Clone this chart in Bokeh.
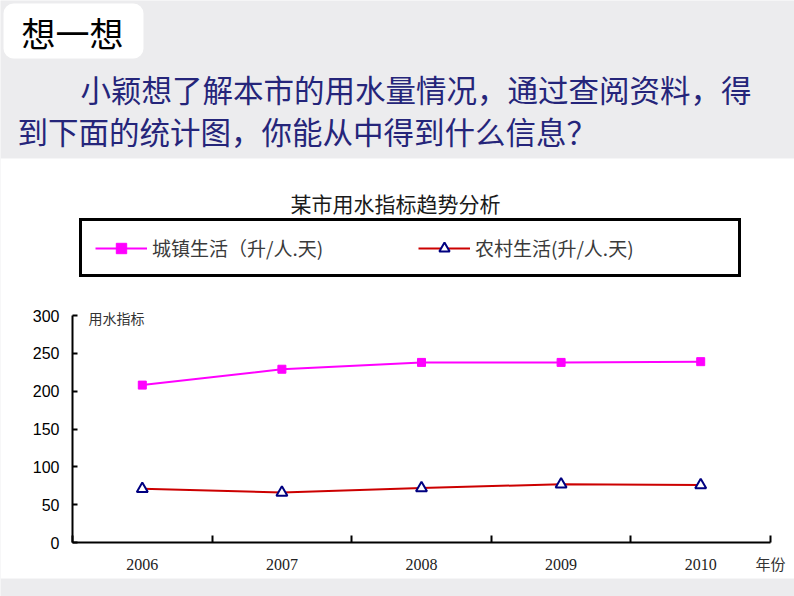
from bokeh.plotting import figure
from bokeh.models import Range1d, FixedTicker, Label, Legend, LegendItem, LinearAxis
from bokeh.embed import file_html
from bokeh.resources import INLINE

# ---- data ----
years = [2006, 2007, 2008, 2009, 2010]
urban = [208, 229, 238, 238, 239]
rural = [71, 66, 72, 77, 76]
y_ticks = [0, 50, 100, 150, 200, 250, 300]

header_title = "想一想"
question_lines = ["小颖想了解本市的用水量情况，通过查阅资料，得",
                  "到下面的统计图，你能从中得到什么信息？"]
chart_title = "某市用水指标趋势分析"
urban_label = "城镇生活（升/人.天)"
rural_label = "农村生活(升/人.天)"
y_label = "用水指标"
x_label = "年份"

CJK = "Noto Sans CJK SC"
W, H = 794, 596

# ---- layout geometry (pixels) ----
AX_L, AX_R = 72, 770        # x pixels of the axis ends
AX_B, AX_T = 542, 315       # y pixels of value 0 and value 300
x_lo, x_hi = years[0] - 0.5, years[-1] + 0.5
y_lo, y_hi = y_ticks[0], y_ticks[-1]
ppx = (AX_R - AX_L) / (x_hi - x_lo)
ppy = (AX_B - AX_T) / (y_hi - y_lo)
xr = Range1d(x_lo - AX_L / ppx, x_hi + (W - AX_R) / ppx)
yr = Range1d(y_lo - (H - AX_B) / ppy, y_hi + AX_T / ppy)


def X(px):
    return xr.start + px / ppx


def Y(py):
    return yr.end - py / ppy


p = figure(width=W, height=H, x_range=xr, y_range=yr, title=None,
           x_axis_location=None, y_axis_location=None, min_border=0,
           output_backend="svg", toolbar_location=None)
p.grid.visible = False
p.outline_line_color = None
p.background_fill_color = "#ececee"
p.border_fill_color = "#ececee"

# white chart panel and the header box
p.quad(left=X(0), right=X(W), top=Y(158), bottom=Y(578), fill_color="white", line_color=None)
p.quad(left=X(3), right=X(143), top=Y(3), bottom=Y(58), border_radius=10,
       fill_color="white", line_color=None)

# data
r1 = p.line(years, urban, line_color="#ff00ff", line_width=2)
s1 = p.scatter(years, urban, marker="square", size=8, fill_color="#ff00ff", line_color="#ff00ff")
r2 = p.line(years, rural, line_color="#cc0000", line_width=2)
s2 = p.scatter(years, rural, marker="triangle", size=11, fill_color="white",
               line_color="#000080", line_width=2)

# y axis
yax = LinearAxis(fixed_location=x_lo, bounds=(y_lo, y_hi), ticker=FixedTicker(ticks=y_ticks))
yax.major_tick_in = 5
yax.major_tick_out = 0
yax.minor_tick_line_color = None
yax.axis_line_width = 2
yax.axis_line_color = "black"
yax.major_tick_line_width = 2
yax.major_tick_line_color = "black"
yax.major_label_text_font = "Liberation Sans"
yax.major_label_text_font_size = "16px"
yax.major_label_text_color = "black"
yax.major_label_standoff = 13
p.add_layout(yax, "left")

# x axis: labels at centres, ticks at category boundaries
bounds = [y - 0.5 for y in years] + [years[-1] + 0.5]
xax = LinearAxis(fixed_location=y_lo, bounds=(x_lo, x_hi),
                 ticker=FixedTicker(ticks=years, minor_ticks=bounds))
xax.major_label_overrides = {y: str(y) for y in years}
xax.major_tick_line_color = None
xax.minor_tick_in = 7
xax.minor_tick_out = 0
xax.minor_tick_line_width = 2
xax.minor_tick_line_color = "black"
xax.axis_line_width = 2
xax.axis_line_color = "black"
xax.major_label_text_font = "Liberation Serif"
xax.major_label_text_font_size = "16px"
xax.major_label_text_color = "#222222"
xax.major_label_standoff = 10
p.add_layout(xax, "below")

legend = Legend(items=[LegendItem(label=urban_label, renderers=[r1, s1]),
                       LegendItem(label=rural_label, renderers=[r2, s2])],
                orientation="horizontal", location=(79, H - 277),
                glyph_width=52, glyph_height=26, label_width=250, label_height=26,
                spacing=16, padding=13, label_standoff=5, margin=0,
                border_line_color="black", border_line_width=3, border_line_alpha=1,
                background_fill_color="white", background_fill_alpha=1,
                label_text_font=CJK, label_text_font_size="19px",
                label_text_color="#3a3a3a", label_text_baseline="middle")
p.add_layout(legend)


def label(px, py, text, size, color, align="left", font=CJK):
    p.add_layout(Label(x=px, y=H - py, x_units="screen", y_units="screen", text=text,
                       text_align=align, text_baseline="middle", text_font=font,
                       text_font_size=size, text_color=color))


label(72, 32, header_title, "34px", "black", align="center")
label(80, 88, question_lines[0], "30.5px", "#25257a")
label(17, 130, question_lines[1], "30.5px", "#25257a")
label(395, 202, chart_title, "21px", "#1a1a1a", align="center")
label(88, 317, y_label, "14px", "#333333")
label(755, 563, x_label, "15px", "#333333")

open("out.html", "w").write(file_html(p, INLINE))
